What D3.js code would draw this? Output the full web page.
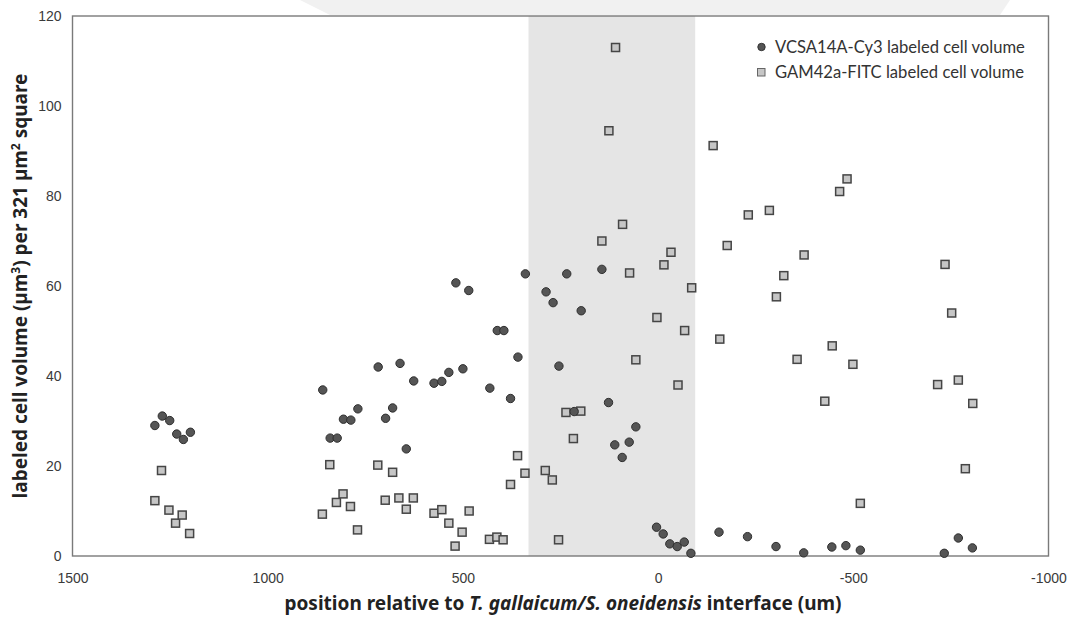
<!DOCTYPE html>
<html>
<head>
<meta charset="utf-8">
<script src="https://cdn.jsdelivr.net/npm/d3@7/dist/d3.min.js"></script>
<style>
  html, body { margin: 0; padding: 0; background: #fff; }
  svg { display: block; }
</style>
</head>
<body>
<svg id="chart" width="1073" height="617"></svg>
<script>
// ---- data ----
const vcsaX = [1289,1270,1251,1233,1216,1198,859,840,822,806,787,769,717,698,680,661,645,626,574,554,536,518,500,485,431,412,395,378,359,340,287,269,254,234,215,197,144,127,111,92,74,57,4,-13,-30,-49,-67,-84,-156,-229,-302,-373,-445,-481,-518,-733,-769,-805];
const vcsaY = [29.0,31.1,30.1,27.1,25.9,27.5,36.9,26.2,26.2,30.4,30.2,32.7,42.0,30.6,32.9,42.8,23.8,38.9,38.4,38.8,40.8,60.7,41.6,59.0,37.3,50.1,50.1,35.0,44.2,62.7,58.7,56.3,42.2,62.7,32.1,54.5,63.7,34.1,24.7,21.9,25.3,28.7,6.4,4.9,2.7,2.1,3.1,0.6,5.3,4.3,2.1,0.7,2.0,2.3,1.3,0.6,4.0,1.8];

const gamX = [1289,1272,1253,1236,1219,1200,860,841,824,807,788,770,718,699,680,664,645,627,574,554,536,520,502,484,432,413,397,378,360,341,289,271,255,236,217,198,144,126,109,91,73,57,3,-15,-33,-51,-68,-86,-141,-158,-177,-231,-285,-303,-322,-356,-374,-427,-446,-465,-484,-499,-518,-716,-735,-752,-769,-787,-806];
const gamY = [12.3,19.0,10.2,7.3,9.1,5.0,9.3,20.3,11.9,13.8,11.0,5.8,20.2,12.4,18.6,12.9,10.4,12.9,9.5,10.3,7.3,2.2,5.3,10.0,3.7,4.2,3.6,15.9,22.3,18.4,19.0,16.9,3.6,31.9,26.1,32.2,70.0,94.5,113.0,73.7,62.9,43.6,53.0,64.7,67.5,38.0,50.1,59.6,91.2,48.2,69.0,75.8,76.8,57.6,62.3,43.7,66.9,34.4,46.7,81.0,83.8,42.6,11.7,38.1,64.8,54.0,39.1,19.4,33.9];

const xTicks = [1500, 1000, 500, 0, -500, -1000];
const yTicks = [0, 20, 40, 60, 80, 100, 120];
const bandRange = [332, -95];
const seriesNames = ["VCSA14A-Cy3 labeled cell volume", "GAM42a-FITC labeled cell volume"];

// ---- layout ----
const svg = d3.select("#chart");
const x = d3.scaleLinear().domain([1500, -1000]).range([72.5, 1048.5]);
const y = d3.scaleLinear().domain([0, 120]).range([556, 16]);

const FONT = "'Liberation Sans', Arial, sans-serif";
const TFONT = "'Noto Sans', 'Open Sans', sans-serif";

// faint scan shadow on top
svg.append("polygon")
  .attr("points", "300,0 1010,0 1000,15 330,15")
  .attr("fill", "#f1f1f1");

// shaded interface band
svg.append("rect")
  .attr("x", x(bandRange[0]))
  .attr("y", y(120))
  .attr("width", x(bandRange[1]) - x(bandRange[0]))
  .attr("height", y(0) - y(120))
  .attr("fill", "#e5e5e5");

// frame
svg.append("rect")
  .attr("x", x(1500)).attr("y", y(120))
  .attr("width", x(-1000) - x(1500))
  .attr("height", y(0) - y(120))
  .attr("fill", "none")
  .attr("stroke", "#7a7a7a")
  .attr("stroke-width", 1.4);

// axes
const xAxis = d3.axisBottom(x).tickValues(xTicks).tickSize(0).tickPadding(17).tickFormat(d => String(d));
const gx = svg.append("g").attr("transform", `translate(0,${y(0)})`).call(xAxis);
gx.select(".domain").remove();
gx.selectAll("text").attr("font-family", FONT).attr("font-size", 14).attr("fill", "#3a3a3a");

const yAxis = d3.axisLeft(y).tickValues(yTicks).tickSize(0).tickPadding(11).tickFormat(d => String(d));
const gy = svg.append("g").attr("transform", `translate(${x(1500)},0)`).call(yAxis);
gy.select(".domain").remove();
gy.selectAll("text").attr("font-family", FONT).attr("font-size", 14).attr("fill", "#3a3a3a");

// GAM42a squares
const S = 8;
svg.append("g").selectAll("rect")
  .data(gamX.map((d, i) => [d, gamY[i]]))
  .join("rect")
  .attr("x", d => x(d[0]) - S / 2)
  .attr("y", d => y(d[1]) - S / 2)
  .attr("width", S).attr("height", S)
  .attr("fill", "#c6c6c6")
  .attr("stroke", "#454545")
  .attr("stroke-width", 1.5);

// VCSA circles
svg.append("g").selectAll("circle")
  .data(vcsaX.map((d, i) => [d, vcsaY[i]]))
  .join("circle")
  .attr("cx", d => x(d[0]))
  .attr("cy", d => y(d[1]))
  .attr("r", 4.2)
  .attr("fill", "#555")
  .attr("stroke", "#2e2e2e")
  .attr("stroke-width", 1);

// legend
const lg = svg.append("g");
lg.append("circle").attr("cx", 761.5).attr("cy", 47).attr("r", 3.7).attr("fill", "#555").attr("stroke", "#333");
lg.append("rect").attr("x", 757.5).attr("y", 68.5).attr("width", 7.5).attr("height", 7.5)
  .attr("fill", "#c6c6c6").attr("stroke", "#666").attr("stroke-width", 1);
lg.selectAll("text").data(seriesNames).join("text")
  .attr("x", 775)
  .attr("y", (d, i) => 53 + i * 25)
  .attr("font-family", "Lato, 'Noto Sans', sans-serif")
  .attr("font-size", 16.6)
  .attr("fill", "#333")
  .text(d => d);

// y-axis title
const yt = svg.append("text")
  .attr("transform", `translate(27,${(y(0) + y(120)) / 2}) rotate(-90)`)
  .attr("text-anchor", "middle")
  .attr("font-family", TFONT)
  .attr("font-weight", "bold")
  .attr("font-size", 19)
  .attr("fill", "#222");
yt.append("tspan").text("labeled cell volume (µm");
yt.append("tspan").attr("font-size", 12).attr("dy", -7).text("3");
yt.append("tspan").attr("dy", 7).text(") per 321 µm");
yt.append("tspan").attr("font-size", 12).attr("dy", -7).text("2");
yt.append("tspan").attr("dy", 7).text(" square");

// x-axis title
const xt = svg.append("text")
  .attr("x", 563)
  .attr("y", 610)
  .attr("text-anchor", "middle")
  .attr("font-family", TFONT)
  .attr("font-weight", "bold")
  .attr("font-size", 19)
  .attr("fill", "#222");
xt.append("tspan").text("position relative to ");
xt.append("tspan").attr("font-style", "italic").text("T. gallaicum/S. oneidensis");
xt.append("tspan").text(" interface (um)");
</script>
</body>
</html>
